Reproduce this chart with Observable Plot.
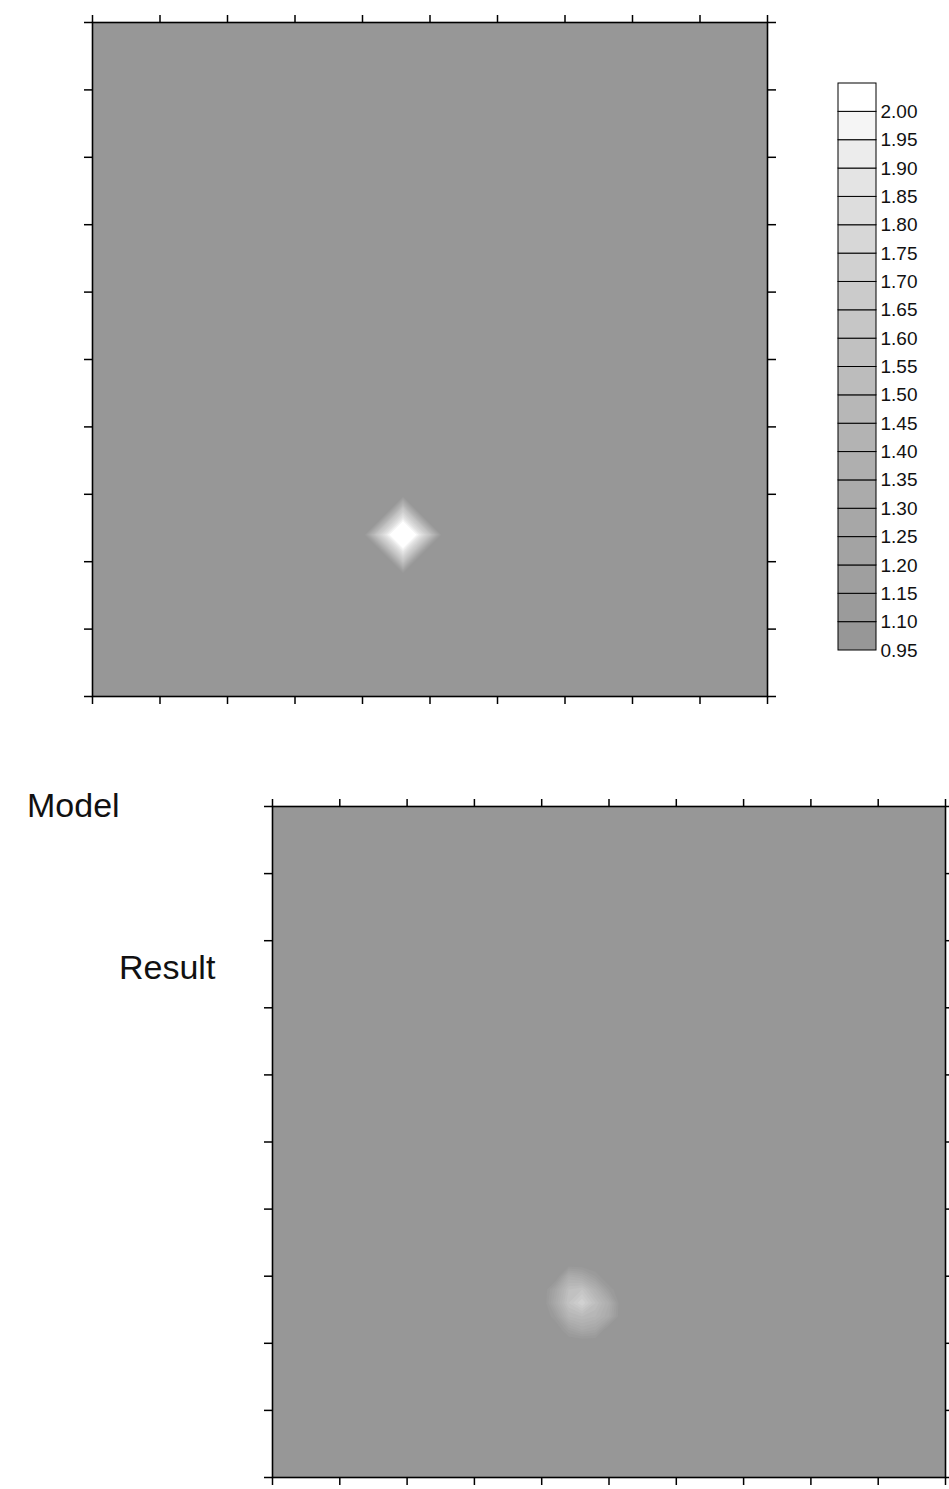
<!DOCTYPE html>
<html><head><meta charset="utf-8">
<script src="https://cdn.jsdelivr.net/npm/d3@7"></script>
<script src="https://cdn.jsdelivr.net/npm/@observablehq/plot@0.6"></script>
<style>
html,body{margin:0;padding:0;background:#fff;overflow:hidden;width:949px;height:1489px;}
#root{position:relative;width:949px;height:1489px;overflow:hidden;font-family:"Liberation Sans",Arial,sans-serif;}
.abs{position:absolute;}
.abs svg{max-width:none !important;}
.lbl{font-size:34px;line-height:1;color:#111;white-space:nowrap;}
</style></head><body><div id="root">
<div id="top" class="abs" style="left:72px;top:2px;width:715px;height:714px"></div>
<div id="legend" class="abs" style="left:836px;top:78px;width:113px;height:590px"></div>
<div id="bottom" class="abs" style="left:252px;top:786px;width:713px;height:711px"></div>
<div class="abs lbl" style="left:27px;top:788px">Model</div>
<div class="abs lbl" style="left:119px;top:950px">Result</div>
</div>
<script>
// Contour levels / legend labels
const levels = [0.95,1.10,1.15,1.20,1.25,1.30,1.35,1.40,1.45,1.50,1.55,1.60,1.65,1.70,1.75,1.80,1.85,1.90,1.95,2.00];
// Gray ramp, one per legend box (bottom to top)
const palette = ["#979797","#9b9b9b","#9f9f9f","#a3a3a3","#a7a7a7","#ababab","#afafaf","#b3b3b3","#b7b7b7","#bcbcbc",
                 "#c1c1c1","#c6c6c6","#cbcbcb","#d1d1d1","#d7d7d7","#dddddd","#e4e4e4","#ececec","#f5f5f5","#ffffff"];
// Axis tick positions (no labels shown)
const axisTicks = [0,1,2,3,4,5,6,7,8,9,10];
// Grid description
const gridStep = 0.2;
const gridN = 51;
const background = 1.0;
// Model anomaly nodes
const modelNodes = [
  {x:4.6,y:2.4,v:2.0},{x:4.4,y:2.4,v:2.0},{x:4.8,y:2.4,v:2.0},{x:4.6,y:2.2,v:2.0},{x:4.6,y:2.6,v:2.0},
  {x:4.4,y:2.2,v:1.6},{x:4.8,y:2.2,v:1.6},{x:4.4,y:2.6,v:1.6},{x:4.8,y:2.6,v:1.6},
  {x:4.2,y:2.4,v:1.6},{x:5.0,y:2.4,v:1.6},{x:4.6,y:2.0,v:1.6},{x:4.6,y:2.8,v:1.6}
];
// Result anomaly nodes
const resultNodes = [
  {x:4.6,y:2.6,v:1.75},{x:4.4,y:2.6,v:1.60},{x:4.8,y:2.6,v:1.55},{x:4.6,y:2.8,v:1.60},{x:4.6,y:2.4,v:1.50},
  {x:4.4,y:2.8,v:1.55},{x:4.8,y:2.8,v:1.40},{x:4.4,y:2.4,v:1.45},{x:4.8,y:2.4,v:1.45},
  {x:4.2,y:2.6,v:1.30},{x:5.0,y:2.6,v:1.35},{x:5.0,y:2.4,v:1.30},{x:4.6,y:3.0,v:1.30},{x:4.4,y:3.0,v:1.35},
  {x:4.6,y:2.2,v:1.30},{x:4.8,y:2.2,v:1.25},{x:4.2,y:2.8,v:1.25},{x:4.2,y:2.4,v:1.15},{x:4.4,y:2.2,v:1.20},
  {x:5.0,y:2.8,v:1.15},{x:4.8,y:3.0,v:1.15}
];

function buildGrid(nodes) {
  const values = new Array(gridN * gridN).fill(background);
  for (const n of nodes) {
    const i = Math.round(n.x / gridStep), j = Math.round(n.y / gridStep);
    values[j * gridN + i] = n.v;
  }
  return values;
}

const colorScale = {type: "threshold", domain: levels.slice(1), range: palette};
const fontStyle = {fontFamily: "'Liberation Sans', Arial, sans-serif", background: "transparent"};
const noText = () => "";

function panel(values, w, h) {
  return Plot.plot({
    width: w + 40, height: h + 40,
    marginLeft: 20, marginRight: 20, marginTop: 20, marginBottom: 20,
    style: fontStyle,
    x: {domain: [0, 10], axis: null},
    y: {domain: [0, 10], axis: null},
    color: colorScale,
    marks: [
      Plot.contour(values, {
        width: gridN, height: gridN,
        x1: -gridStep / 2, x2: 10 + gridStep / 2, y1: -gridStep / 2, y2: 10 + gridStep / 2,
        thresholds: levels, fill: Plot.identity, clip: true
      }),
      Plot.frame({stroke: "black", strokeWidth: 1.6}),
      Plot.axisX({anchor: "top", ticks: axisTicks, tickSize: 8, tickFormat: noText, label: null, strokeWidth: 1.5}),
      Plot.axisX({anchor: "bottom", ticks: axisTicks, tickSize: 8, tickFormat: noText, label: null, strokeWidth: 1.5}),
      Plot.axisY({anchor: "left", ticks: axisTicks, tickSize: 8, tickFormat: noText, label: null, strokeWidth: 1.5}),
      Plot.axisY({anchor: "right", ticks: axisTicks, tickSize: 8, tickFormat: noText, label: null, strokeWidth: 1.5})
    ]
  });
}

document.getElementById("top").append(panel(buildGrid(modelNodes), 675, 674));
document.getElementById("bottom").append(panel(buildGrid(resultNodes), 673, 671));

const legend = Plot.plot({
  width: 113, height: 587,
  marginTop: 5, marginBottom: 15, marginLeft: 2, marginRight: 73,
  style: fontStyle,
  x: {domain: [0, 1], axis: null},
  y: {domain: [0, 20], axis: null},
  color: colorScale,
  marks: [
    Plot.rect(levels, {x1: 0, x2: 1, y1: (d, i) => i, y2: (d, i) => i + 1, fill: d => d, stroke: "black", strokeWidth: 1}),
    Plot.text(levels, {x: 1, y: (d, i) => i, text: d => d.toFixed(2), textAnchor: "start", dx: 4, fontSize: 19, fill: "#111"})
  ]
});
document.getElementById("legend").append(legend);
</script>
</body></html>
